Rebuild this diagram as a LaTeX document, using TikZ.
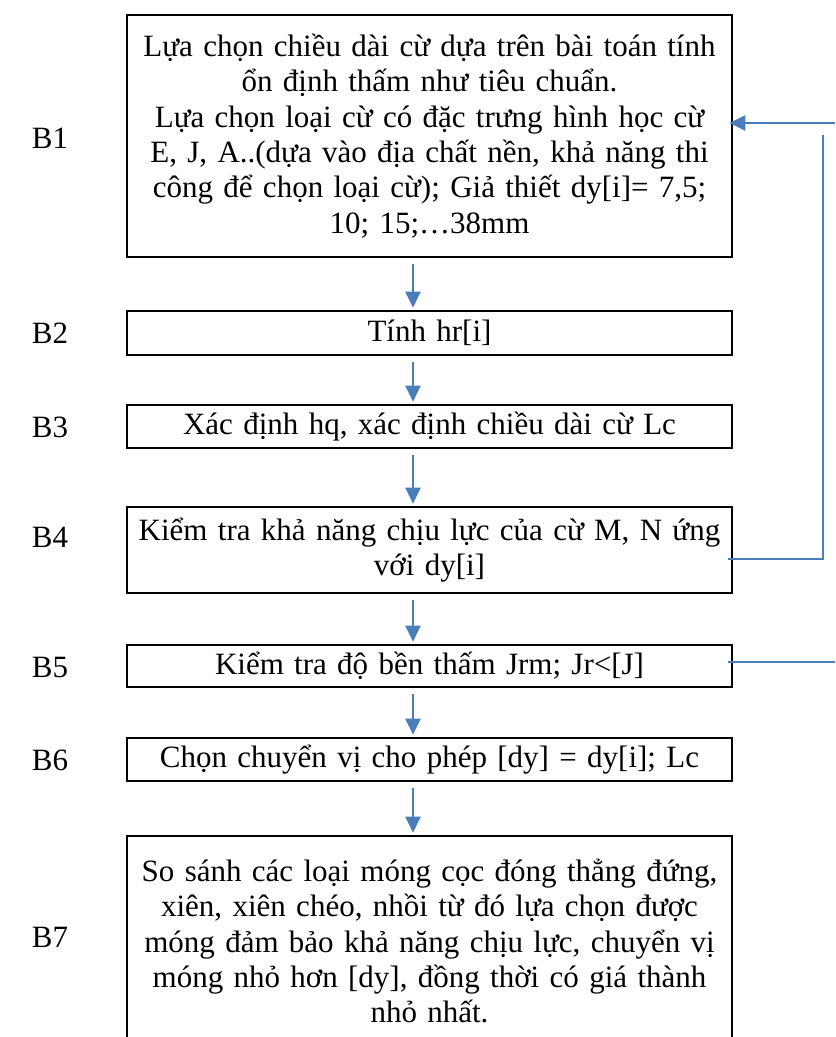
\documentclass[tikz,border=0pt]{standalone}
\usepackage{fontspec}
\setmainfont{Liberation Serif}
\usepackage{xcolor}
\usepackage{tikz}
\usetikzlibrary{positioning, arrows.meta, calc}

\definecolor{flowblue}{RGB}{74,126,187}

\tikzset{
  stage/.style={draw, line width=1.3pt, minimum width=302.5pt, text width=300pt, align=center, inner sep=0pt},
  flow/.style={flowblue, line width=1.1pt, -{Triangle[length=8pt,width=7.5pt]}},
  back/.style={flowblue, line width=1.1pt}
}

\begin{document}
\begin{tikzpicture}[x=0.5pt, y=-0.5pt, font=\fontsize{15.5}{17.7}\selectfont]
        \useasboundingbox (0,0) rectangle (835,1037);

        % cac buoc
        \node[stage, minimum height=121pt] (b1) at (429.5,136) {Lựa chọn chiều dài cừ dựa trên bài toán tính\\ổn định thấm như tiêu chuẩn.\\Lựa chọn loại cừ có đặc trưng hình học cừ\\E, J, A..(dựa vào địa chất nền, khả năng thi\\công để chọn loại cừ); Giả thiết dy[i]= 7,5;\\10; 15;…38mm};
        \node[stage, minimum height=22pt] (b2) at (429.5,333) {Tính hr[i]};
        \node[stage, minimum height=21.5pt] (b3) at (429.5,426.5) {Xác định hq, xác định chiều dài cừ Lc};
        \node[stage, minimum height=43pt] (b4) at (429.5,550) {Kiểm tra khả năng chịu lực của cừ M, N ứng\\với dy[i]};
        \node[stage, minimum height=21pt] (b5) at (429.5,666) {Kiểm tra độ bền thấm Jrm; Jr<[J]};
        \node[stage, minimum height=21.5pt] (b6) at (429.5,759.5) {Chọn chuyển vị cho phép [dy] = dy[i]; Lc};
        \node[stage, minimum height=105pt] (b7) at (429.5,941) {So sánh các loại móng cọc đóng thẳng đứng,\\xiên, xiên chéo, nhồi từ đó lựa chọn được\\móng đảm bảo khả năng chịu lực, chuyển vị\\móng nhỏ hơn [dy], đồng thời có giá thành\\nhỏ nhất.};

        % nhan B1..B7
        \foreach \n/\y in {1/138, 2/333, 3/427, 4/537, 5/667, 6/760, 7/937} {
          \node (l\n) at (50,\y) {B\n};
        }

        % mui ten doc
        \coordinate (ax) at (413,0);
        \foreach \a/\b in {b1/b2, b2/b3, b3/b4, b4/b5, b5/b6, b6/b7} {
          \draw[flow, shorten <=3pt, shorten >=1pt] (\a.south -| ax) -- (\b.north -| ax);
        }

        % vong lap ben phai
        \coordinate (in1) at (835,123);
        \draw[flow, shorten >=-2pt] (in1) -- (in1 -| b1.east);

        \coordinate (up4) at (823,135);
        \draw[back] (up4) |- ($(b4.east)+(-5,9)$);

        \coordinate (out5) at (835,662);
        \draw[back] ($(b5.east)+(-5,-4)$) -- (out5);
      \end{tikzpicture}
\end{document}
